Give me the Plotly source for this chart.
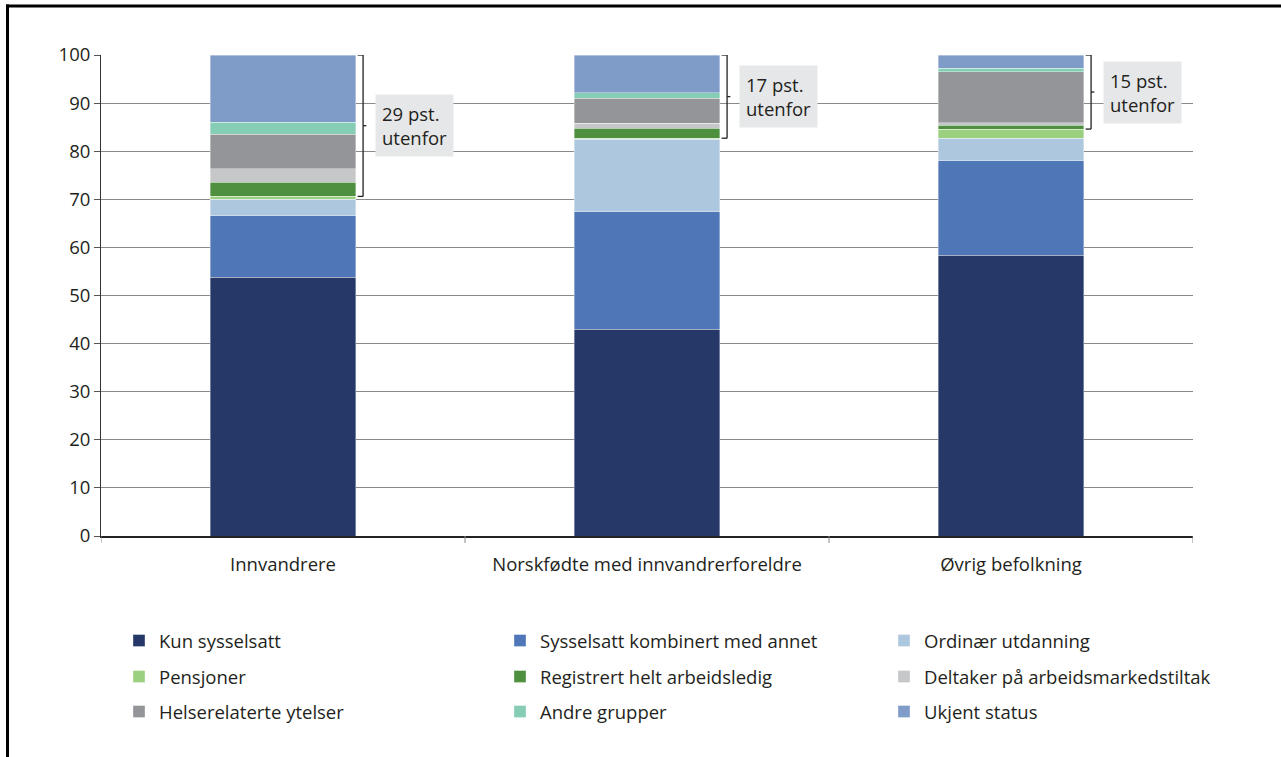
import plotly.graph_objects as go

categories = ["Innvandrere", "Norskfødte med innvandrerforeldre", "Øvrig befolkning"]

series_names = [
    "Kun sysselsatt",
    "Sysselsatt kombinert med annet",
    "Ordinær utdanning",
    "Pensjoner",
    "Registrert helt arbeidsledig",
    "Deltaker på arbeidsmarkedstiltak",
    "Helserelaterte ytelser",
    "Andre grupper",
    "Ukjent status",
]

kun_sysselsatt = [53.8, 43.0, 58.4]
sysselsatt_kombinert = [12.8, 24.4, 19.6]
ordinaer_utdanning = [3.4, 15.1, 4.7]
pensjoner = [0.6, 0.2, 1.9]
registrert_ledig = [2.9, 2.1, 0.8]
deltaker_tiltak = [2.9, 1.0, 0.5]
helserelaterte = [7.1, 5.2, 10.6]
andre_grupper = [2.5, 1.2, 0.7]
ukjent_status = [14.0, 7.8, 2.8]

utenfor_labels = ["29 pst.<br>utenfor", "17 pst.<br>utenfor", "15 pst.<br>utenfor"]

series_values = [kun_sysselsatt, sysselsatt_kombinert, ordinaer_utdanning, pensjoner,
                 registrert_ledig, deltaker_tiltak, helserelaterte, andre_grupper, ukjent_status]

colors = ["#253868", "#4f76b7", "#adc8de", "#9bd17e", "#4e9040",
          "#c6c7c8", "#939598", "#85cdb4", "#7f9cc8"]

FONT = "Open Sans"
FS = 18.5
TXT = "#231f20"
W, H = 1281, 757
L, R, T, B = 101, 88, 55, 221
pw, ph = W - L - R, H - T - B

def px_to_paper_y(py):
    return (H - B - py) / ph

def px_to_paper_x(px):
    return (px - L) / pw

fig = go.Figure()
legend_ids = ["legend"] + ["legend%d" % k for k in range(2, 10)]
for k, (name, vals, col) in enumerate(zip(series_names, series_values, colors)):
    fig.add_trace(go.Bar(
        x=list(range(len(categories))), y=vals, name=name,
        marker=dict(color=col, line=dict(color="rgba(255,255,255,0.6)", width=0.6)),
        width=0.4, legend=legend_ids[k],
    ))

# brackets and labels for "utenfor"
for i in range(len(categories)):
    start = (kun_sysselsatt[i] + sysselsatt_kombinert[i] + ordinaer_utdanning[i] + pensjoner[i])
    top = start + registrert_ledig[i] + deltaker_tiltak[i] + helserelaterte[i] + andre_grupper[i] + ukjent_status[i]
    xa, xb, xc = i + 0.205, i + 0.22, i + 0.229
    mid = (start + top) / 2
    line = dict(color="#222222", width=1.3)
    fig.add_shape(type="line", xref="x", yref="y", x0=xa, x1=xb, y0=top, y1=top, line=line)
    fig.add_shape(type="line", xref="x", yref="y", x0=xb, x1=xb, y0=top, y1=start, line=line)
    fig.add_shape(type="line", xref="x", yref="y", x0=xa, x1=xb, y0=start, y1=start, line=line)
    fig.add_shape(type="line", xref="x", yref="y", x0=xb, x1=xc, y0=mid, y1=mid, line=line)
    fig.add_annotation(x=i + 0.253, y=mid, xref="x", yref="y", text=utenfor_labels[i],
                       showarrow=False, xanchor="left", yanchor="middle", align="left",
                       bgcolor="#e6e7e8", borderpad=6,
                       font=dict(family=FONT, size=FS, color=TXT))

# outer frame (top and left)
frame = dict(color="black", width=3)
fig.add_shape(type="line", xref="paper", yref="paper", x0=px_to_paper_x(6), x1=px_to_paper_x(1290),
              y0=px_to_paper_y(6), y1=px_to_paper_y(6), line=frame)
fig.add_shape(type="line", xref="paper", yref="paper", x0=px_to_paper_x(7.5), x1=px_to_paper_x(7.5),
              y0=px_to_paper_y(4.5), y1=px_to_paper_y(770), line=frame)

tickvals = list(range(0, 101, 10))
yax_common = dict(range=[0, 100], tickvals=tickvals, ticks="outside", ticklen=6,
                  tickcolor="#555555", showline=True, linecolor="#333333", linewidth=1,
                  tickfont=dict(family=FONT, size=FS, color=TXT), fixedrange=True)

legend_x_px = [119, 500, 884]
row_center_px = [641, 677, 712]
legends = {}
for k, lid in enumerate(legend_ids):
    r, c = divmod(k, 3)
    legends[lid] = dict(
        orientation="h", x=px_to_paper_x(legend_x_px[c]), xanchor="left",
        y=px_to_paper_y(row_center_px[r]), yanchor="middle",
        font=dict(family=FONT, size=FS, color=TXT),
        bgcolor="rgba(0,0,0,0)", itemclick=False, itemdoubleclick=False,
    )

fig.update_layout(
    width=W, height=H, barmode="stack",
    margin=dict(l=L, r=R, t=T, b=B, autoexpand=False),
    paper_bgcolor="white", plot_bgcolor="white",
    font=dict(family=FONT, size=FS, color=TXT),
    xaxis=dict(tickvals=list(range(len(categories))), ticktext=categories,
               range=[-0.5, 2.5], showline=True, linecolor="#222222", linewidth=1.5,
               ticks="", showgrid=False, ticklabelstandoff=11, fixedrange=True,
               tickfont=dict(family=FONT, size=FS, color=TXT)),
    yaxis=dict(**yax_common, showgrid=True, gridcolor="#8a8a8a", gridwidth=1, zeroline=False),
    yaxis2=dict(**yax_common, overlaying="y", side="right", showgrid=False, zeroline=False),
    showlegend=True,
    **legends,
)

# category boundary ticks below the axis
for b in [-0.5, 0.5, 1.5, 2.5]:
    fig.add_shape(type="line", xref="x", yref="paper", x0=b, x1=b,
                  y0=0, y1=px_to_paper_y(543), line=dict(color="#888888", width=1))

fig.write_html("out.html", config={"displayModeBar": False},
               post_script="document.body.style.margin='0px';document.body.style.overflow='hidden';")
